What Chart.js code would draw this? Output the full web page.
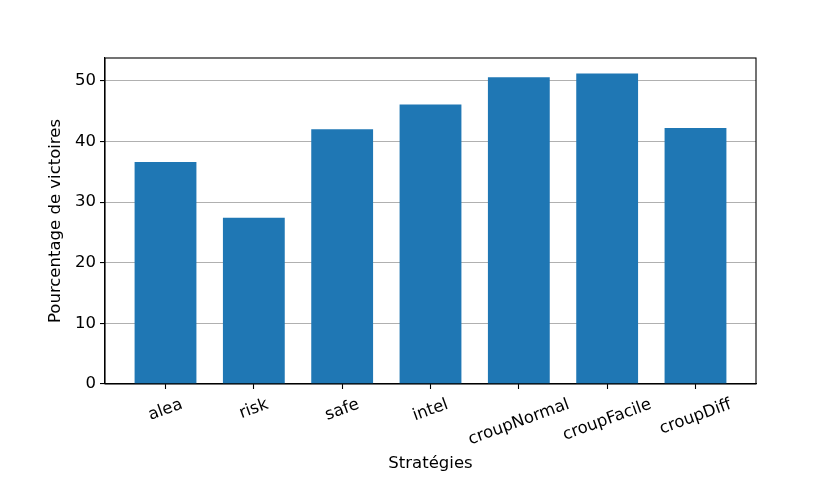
<!DOCTYPE html>
<html>
<head>
    <script src="https://cdn.jsdelivr.net/npm/chart.js@4.4.0/dist/chart.umd.min.js"></script>
    <style>
        html, body { margin: 0; padding: 0; background: #ffffff; }
        #wrap { width: 840px; height: 480px; }
    </style>
</head>
<body>
    <div id="wrap"><canvas id="myChart" width="840" height="480"></canvas></div>
    <script>
        // donnees
        const strategies = ['alea', 'risk', 'safe', 'intel', 'croupNormal', 'croupFacile', 'croupDiff'];
        const victoires = [36.6, 27.4, 42.0, 46.1, 50.6, 51.2, 42.2];
        const yTicks = [0, 10, 20, 30, 40, 50];

        const fontFamily = '"DejaVu Sans", sans-serif';
        const fontSize = 16.5;
        const rotation = 20;

        const barWidth = 0.7;
        const span = strategies.length - 1 + barWidth;
        const xMin = -barWidth / 2 - 0.05 * span;
        const xMax = strategies.length - 1 + barWidth / 2 + 0.05 * span;
        const yMax = Math.max(...victoires) * 1.05;

        // cadre complet autour de la zone du graphique
        const frame = {
            id: 'frame',
            afterDraw(chart) {
                const a = chart.chartArea;
                const c = chart.ctx;
                c.save();
                c.strokeStyle = '#000000';
                c.lineWidth = 1.1;
                c.strokeRect(a.left, a.top, a.right - a.left, a.bottom - a.top);
                c.restore();
            }
        };

        // libelles x tournes et centres sous la graduation (ha=center, va=top)
        const xLabels = {
            id: 'xLabels',
            afterDraw(chart) {
                const sx = chart.scales.x;
                const c = chart.ctx;
                const th = rotation * Math.PI / 180;
                const h = fontSize * 1.17;
                const yTop = chart.chartArea.bottom + 11;
                c.save();
                c.font = fontSize + 'px ' + fontFamily;
                c.fillStyle = '#000000';
                c.textAlign = 'center';
                c.textBaseline = 'middle';
                strategies.forEach((s, i) => {
                    const w = c.measureText(s).width;
                    const H = w * Math.sin(th) + h * Math.cos(th);
                    c.save();
                    c.translate(sx.getPixelForValue(i), yTop + H / 2);
                    c.rotate(-th);
                    c.fillText(s, 0, 0);
                    c.restore();
                });
                c.restore();
            }
        };

        const ctx = document.getElementById('myChart');
        new Chart(ctx, {
            type: 'bar',
            data: {
                datasets: [{
                    data: victoires.map((v, i) => ({ x: i, y: v })),
                    backgroundColor: '#1f77b4',
                    borderWidth: 0,
                    barPercentage: barWidth,
                    categoryPercentage: 1.0
                }]
            },
            options: {
                responsive: false,
                animation: false,
                layout: { padding: { left: 0, top: 58, right: 84, bottom: 0 } },
                plugins: {
                    legend: { display: false },
                    tooltip: { enabled: false }
                },
                scales: {
                    x: {
                        type: 'linear',
                        min: xMin,
                        max: xMax,
                        offset: false,
                        z: 1,
                        afterBuildTicks: (scale) => {
                            scale.ticks = strategies.map((s, i) => ({ value: i }));
                        },
                        afterFit: (scale) => { scale.height = 96; },
                        grid: {
                            offset: false,
                            drawOnChartArea: false,
                            tickLength: 5,
                            tickColor: '#000000',
                            tickWidth: 1.1
                        },
                        border: { color: '#000000', width: 1.1 },
                        ticks: { display: false },
                        title: {
                            display: true,
                            text: 'Stratégies',
                            color: '#000000',
                            font: { family: fontFamily, size: fontSize },
                            padding: { top: 0, bottom: 6 }
                        }
                    },
                    y: {
                        min: 0,
                        max: yMax,
                        z: 1,
                        afterBuildTicks: (scale) => {
                            scale.ticks = yTicks.map(v => ({ value: v }));
                        },
                        afterFit: (scale) => { scale.width = 105; },
                        grid: {
                            color: '#b0b0b0',
                            lineWidth: 1.1,
                            tickLength: 5,
                            tickColor: '#000000',
                            tickWidth: 1.1
                        },
                        border: { color: '#000000', width: 1.1 },
                        ticks: {
                            padding: 4,
                            color: '#000000',
                            font: { family: fontFamily, size: fontSize }
                        },
                        title: {
                            display: true,
                            text: 'Pourcentage de victoires',
                            color: '#000000',
                            font: { family: fontFamily, size: fontSize },
                            padding: { top: 46, bottom: 0 }
                        }
                    }
                }
            },
            plugins: [frame, xLabels]
        });
    </script>
</body>
</html>
